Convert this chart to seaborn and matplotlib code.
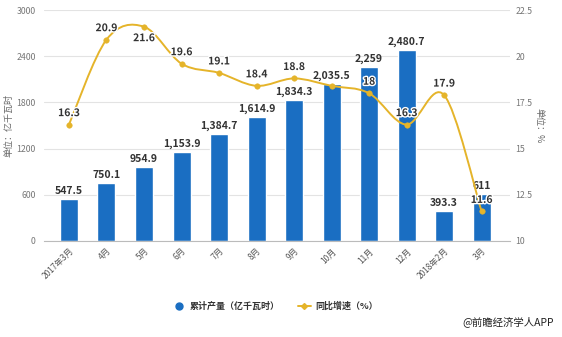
import matplotlib
matplotlib.use("Agg")
import matplotlib.pyplot as plt
import matplotlib.patheffects as pe
from matplotlib.path import Path
from matplotlib.patches import PathPatch
from matplotlib.lines import Line2D
import numpy as np
import pandas as pd
import seaborn as sns

months = ["2017年3月", "4月", "5月", "6月", "7月", "8月", "9月", "10月",
          "11月", "12月", "2018年2月", "3月"]
output = [547.5, 750.1, 954.9, 1153.9, 1384.7, 1614.9, 1834.3, 2035.5,
          2259, 2480.7, 393.3, 611]
growth = [16.3, 20.9, 21.6, 19.6, 19.1, 18.4, 18.8, 18.4, 18, 16.3, 17.9, 11.6]
growth_labels = ["16.3", "20.9", "21.6", "19.6", "19.1", "18.4", "18.8", None,
                 "18", "16.3", "17.9", "11.6"]
left_ticks = [0, 600, 1200, 1800, 2400, 3000]
right_ticks = [10, 12.5, 15, 17.5, 20, 22.5]
right_tick_labels = ["10", "12.5", "15", "17.5", "20", "22.5"]

sns.set_theme(style="white")
plt.rcParams["font.family"] = ["Noto Sans CJK SC", "DejaVu Sans"]

BAR = "#1a6ec2"
LINE = "#e5b42a"
TXT = "#333333"
TICK = "#777777"

df = pd.DataFrame({"month": months, "output": output, "growth": growth})

fig = plt.figure(figsize=(5.62, 3.37), dpi=100)
ax = fig.add_axes([0.078, 0.285, 0.829, 0.685])

sns.barplot(data=df, x="month", y="output", color=BAR, width=0.48,
            saturation=1, ax=ax, zorder=2)
ax.set_xlim(-0.67, 11.75)
ax.set_ylim(0, 3000)
ax.set_yticks(left_ticks)
ax.set_yticklabels([str(t) for t in left_ticks], fontsize=6.3, color=TICK)
ax.yaxis.grid(True, color="#e3e3e3", linewidth=0.8, zorder=0)
ax.set_axisbelow(True)
for s in ["top", "right", "left"]:
    ax.spines[s].set_visible(False)
ax.spines["bottom"].set_color("#bbbbbb")
ax.spines["bottom"].set_linewidth(0.8)
ax.tick_params(axis="y", length=0, pad=6)
ax.tick_params(axis="x", length=3, color="#bbbbbb", pad=1)
ax.set_xticks(range(len(months)))
ax.set_xticklabels(months, rotation=45, ha="right", va="top",
                   rotation_mode="anchor", fontsize=6, color="#555555")
ax.set_xlabel("")
ax.set_ylabel("单位：亿千瓦时", fontsize=6.5, color="#666666", labelpad=2)

# value labels on the bars
for i, v in enumerate(output):
    ax.text(i, v + 40, f"{v:,}", ha="center", va="bottom", fontsize=7.5,
            fontweight="bold", color=TXT, zorder=5)

ax2 = ax.twinx()
ax2.set_ylim(10, 22.5)
ax2.set_yticks(right_ticks)
ax2.set_yticklabels(right_tick_labels, fontsize=6.3, color=TICK)
ax2.tick_params(axis="y", length=0, pad=4)
for s in ax2.spines.values():
    s.set_visible(False)
ax2.set_ylabel("单位：%", fontsize=6.5, color="#666666", rotation=270,
               labelpad=8)

# smooth curve through the growth points (Catmull-Rom as cubic Bezier)
xs = np.arange(len(growth), dtype=float)
ys = np.array(growth, dtype=float)
pts = np.column_stack([xs, ys])
verts = [tuple(pts[0])]
codes = [Path.MOVETO]
n = len(pts)
for i in range(n - 1):
    p0 = pts[max(i - 1, 0)]
    p1 = pts[i]
    p2 = pts[i + 1]
    p3 = pts[min(i + 2, n - 1)]
    c1 = p1 + (p2 - p0) / 6.0
    c2 = p2 - (p3 - p1) / 6.0
    verts += [tuple(c1), tuple(c2), tuple(p2)]
    codes += [Path.CURVE4, Path.CURVE4, Path.CURVE4]
ax2.add_patch(PathPatch(Path(verts, codes), fill=False, edgecolor=LINE,
                        linewidth=1.4, zorder=3))
sns.scatterplot(x=xs, y=ys, color=LINE, s=16, edgecolor=LINE, ax=ax2,
                zorder=4, legend=False)

halo = [pe.withStroke(linewidth=2, foreground="white")]
below = {2}
for i, (v, lab) in enumerate(zip(growth, growth_labels)):
    if lab is None:
        continue
    if i in below:
        ax2.text(i, v - 0.35, lab, ha="center", va="top", fontsize=7.5,
                 fontweight="bold", color=TXT, zorder=6, path_effects=halo)
    else:
        ax2.text(i, v + 0.35, lab, ha="center", va="bottom", fontsize=7.5,
                 fontweight="bold", color=TXT, zorder=6, path_effects=halo)

# legend
handles = [
    Line2D([], [], marker="o", linestyle="none", markersize=5,
           markerfacecolor=BAR, markeredgecolor=BAR),
    Line2D([], [], marker="D", linestyle="-", color=LINE, markersize=3,
           linewidth=1.4, markerfacecolor=LINE),
]
fig.legend(handles, ["累计产量（亿千瓦时）", "同比增速（%）"], loc="center",
           bbox_to_anchor=(0.49, 0.092), ncol=2, frameon=False,
           handlelength=1.4, columnspacing=2.0,
           handletextpad=0.5, labelcolor=TXT,
           prop={"weight": "bold", "size": 6.5})

fig.text(0.985, 0.03, "@前瞻经济学人APP", ha="right", va="bottom",
         fontsize=7.5, color="#222222")

fig.savefig("out.png", dpi=100, facecolor="white")
